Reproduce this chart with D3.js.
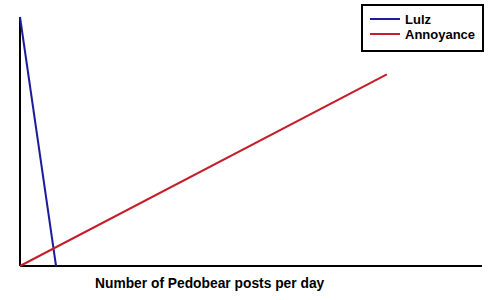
<!DOCTYPE html>
<html>
<head>
<meta charset="utf-8">
<script src="https://cdn.jsdelivr.net/npm/d3@7"></script>
<style>
body { margin: 0; background: #fff; }
svg { display: block; }
.lbl { font-family: "Liberation Sans", Arial, sans-serif; font-weight: bold; font-size: 13px; }
.xtitle { font-size: 13.8px; }
</style>
</head>
<body>
<svg id="chart" width="500" height="300"></svg>
<script>
// series, in made-up units (0..100 on both axes)
var lulzX = [0, 7.8];
var lulzY = [100, 0];
var annoyX = [0, 79.4];
var annoyY = [0, 77];
var seriesNames = ["Lulz", "Annoyance"];
var seriesColors = ["#1c1c9c", "#c41e2a"];
var xTitle = "Number of Pedobear posts per day";

var svg = d3.select("#chart");
var x = d3.scaleLinear().domain([0, 100]).range([20, 482]);
var y = d3.scaleLinear().domain([0, 100]).range([266, 17]);

var line = d3.line()
    .x(d => x(d[0]))
    .y(d => y(d[1]));

var series = [
    d3.zip(lulzX, lulzY),
    d3.zip(annoyX, annoyY)
];

// axes: plain lines, no ticks
svg.append("line")
    .attr("x1", x(0)).attr("x2", x(0))
    .attr("y1", y(100)).attr("y2", y(0))
    .attr("stroke", "#000").attr("stroke-width", 2);
svg.append("line")
    .attr("x1", x(0)).attr("x2", x(100))
    .attr("y1", y(0)).attr("y2", y(0))
    .attr("stroke", "#000").attr("stroke-width", 2);

svg.selectAll(".series")
    .data(series)
    .enter().append("path")
    .attr("class", "series")
    .attr("d", line)
    .attr("fill", "none")
    .attr("stroke", (d, i) => seriesColors[i])
    .attr("stroke-width", 2);

svg.append("text")
    .attr("class", "lbl xtitle")
    .attr("x", 95)
    .attr("y", 288)
    .text(xTitle);

// legend
var leg = svg.append("g").attr("transform", "translate(362,5)");
leg.append("rect")
    .attr("width", 121).attr("height", 46)
    .attr("fill", "#fff").attr("stroke", "#000").attr("stroke-width", 2);
var item = leg.selectAll(".item")
    .data(seriesNames)
    .enter().append("g")
    .attr("class", "item")
    .attr("transform", (d, i) => "translate(0," + (14 + i * 15) + ")");
item.append("line")
    .attr("x1", 8).attr("x2", 38)
    .attr("stroke", (d, i) => seriesColors[i])
    .attr("stroke-width", 2);
item.append("text")
    .attr("class", "lbl")
    .attr("x", 43)
    .attr("y", 5)
    .text(d => d);
</script>
</body>
</html>
